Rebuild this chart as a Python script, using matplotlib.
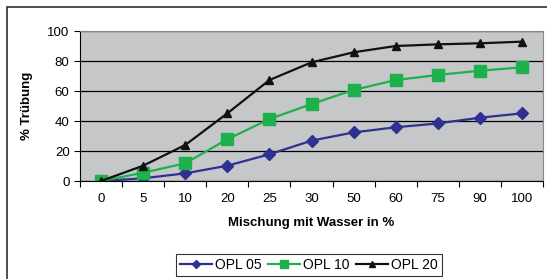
import numpy as np
import matplotlib
matplotlib.use("Agg")
import matplotlib.pyplot as plt
from matplotlib.patches import Rectangle

plt.rcParams['font.family'] = ['Liberation Sans', 'DejaVu Sans']

categories = ["0", "5", "10", "20", "25", "30", "50", "60", "75", "90", "100"]
opl05 = [0, 1.8, 5.1, 10.2, 17.8, 26.9, 32.4, 35.8, 38.4, 42.2, 45.1]
opl10 = [0, 5.5, 11.8, 27.8, 41.3, 51.3, 60.7, 67.3, 70.7, 73.5, 75.8]
opl20 = [0, 10.2, 24.0, 45.1, 67.3, 79.1, 85.8, 90.0, 91.1, 91.8, 92.9]

fig = plt.figure(figsize=(5.47, 2.79), dpi=100)

# outer chart frame (cropped at right/bottom)
fig.patches.append(Rectangle((7/547, -0.1), 1.2, (279-7)/279 + 0.1,
                             transform=fig.transFigure, fill=False,
                             edgecolor="#303030", linewidth=1.2))

ax = fig.add_axes([80/547, 1 - 181/279, (543-80)/547, 150/279])
ax.set_facecolor("#C6C7C9")

x = np.arange(len(categories))
ax.plot(x, opl05, color="#2E3192", marker="D", markersize=6, linewidth=1.6, label="OPL 05")
ax.plot(x, opl10, color="#1DB04B", marker="s", markersize=8, linewidth=1.6, label="OPL 10")
ax.plot(x, opl20, color="#111111", marker="^", markersize=6, linewidth=1.6, label="OPL 20")

ax.set_xlim(-0.5, len(categories) - 0.5)
ax.set_ylim(0, 100)
ax.set_yticks([0, 20, 40, 60, 80, 100])
ax.yaxis.grid(True, color="black", linewidth=0.9)
ax.set_axisbelow(True)

ax.set_xticks(np.arange(len(categories) + 1) - 0.5)
ax.set_xticklabels([])
ax.set_xticks(x, minor=True)
ax.set_xticklabels(categories, minor=True)
ax.tick_params(axis="x", which="major", direction="out", length=4, color="black")
ax.tick_params(axis="x", which="minor", length=0, pad=9, labelsize=9.5)
ax.tick_params(axis="y", direction="out", length=4, labelsize=9.5)

for side in ["top", "right"]:
    ax.spines[side].set_color("#888888")
ax.spines["left"].set_color("black")
ax.spines["bottom"].set_color("black")

ax.set_xlabel("Mischung mit Wasser in %", fontsize=9.5, fontweight="bold", labelpad=8)
ax.set_ylabel("% Trübung", fontsize=9.5, fontweight="bold", labelpad=10)

leg = fig.legend(loc="center", bbox_to_anchor=(309/547, 1 - 265/279), ncol=3,
                 frameon=True, fancybox=False, edgecolor="black", fontsize=10,
                 handlelength=2.3, columnspacing=0.5, handletextpad=0.2,
                 borderpad=0.3, markerscale=0.75)
leg.get_frame().set_linewidth(0.8)

fig.savefig("out.png", dpi=100)
